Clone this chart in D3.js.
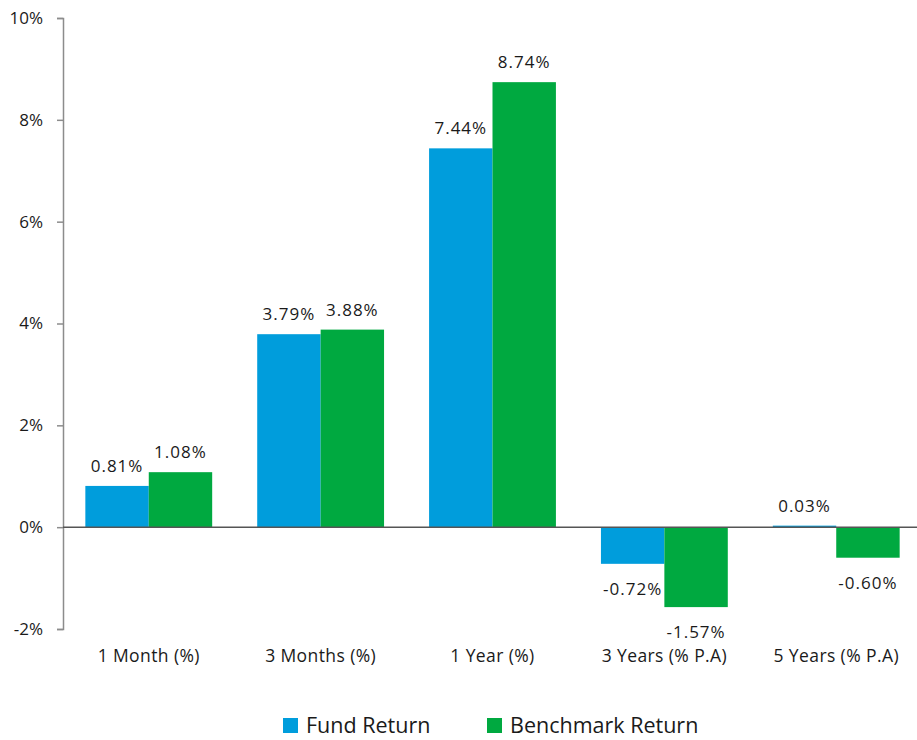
<!DOCTYPE html>
<html>
<head>
<meta charset="utf-8">
<script src="https://cdn.jsdelivr.net/npm/d3@7"></script>
<style>
  body { margin: 0; background: #fff; }
  text { font-family: "Open Sans", "Noto Sans", sans-serif; fill: #1a1a1a; }
</style>
</head>
<body>
<div id="vis"></div>
<script>
// Datos del gráfico
const CATEGORIES = ['1 Month (%)', '3 Months (%)', '1 Year (%)', '3 Years (% P.A)', '5 Years (% P.A)'];
const SERIES = ['Fund Return', 'Benchmark Return'];
const FUND = [0.81, 3.79, 7.44, -0.72, 0.03];
const BENCHMARK = [1.08, 3.88, 8.74, -1.57, -0.60];
const Y_TICKS = [-2, 0, 2, 4, 6, 8, 10];
const COLORS = ['#009ddc', '#00a940'];

const WIDTH_VIS = 917;
const HEIGHT_VIS = 740;

const SVG = d3.select('#vis').append('svg')
  .attr('width', WIDTH_VIS)
  .attr('height', HEIGHT_VIS);

const AXIS_X = 63;

const y = d3.scaleLinear().domain([-2, 10]).range([629, 18]);

const x = d3.scaleBand()
  .domain(CATEGORIES)
  .range([AXIS_X, 922])
  .paddingInner(0.262)
  .paddingOuter(0.13);

const xSub = d3.scaleBand()
  .domain(SERIES)
  .range([0, x.bandwidth()]);

// Eje Y
const yAxis = d3.axisLeft(y)
  .tickValues(Y_TICKS)
  .tickSize(6)
  .tickPadding(14)
  .tickFormat((d) => `${d}%`);

const gy = SVG.append('g')
  .attr('transform', `translate(${AXIS_X},0)`)
  .call(yAxis);
gy.select('.domain').attr('stroke', '#8c8c8c').attr('stroke-width', 1.5);
gy.selectAll('.tick line').attr('stroke', '#8c8c8c').attr('stroke-width', 1.5);
gy.selectAll('.tick text')
  .attr('font-size', 17)
  .attr('font-family', '"Open Sans", sans-serif')
  .attr('fill', '#1a1a1a');

// Barras
const rows = CATEGORIES.map((c, i) => ({ cat: c, values: [FUND[i], BENCHMARK[i]] }));

const groups = SVG.append('g')
  .selectAll('g')
  .data(rows)
  .join('g')
  .attr('transform', (d) => `translate(${x(d.cat)},0)`);

const cells = groups.selectAll('g.cell')
  .data((d) => d.values.map((v, j) => ({ v, s: SERIES[j], j })))
  .join('g')
  .attr('class', 'cell');

cells.append('rect')
  .attr('x', (d) => xSub(d.s))
  .attr('width', xSub.bandwidth())
  .attr('y', (d) => y(Math.max(0, d.v)))
  .attr('height', (d) => Math.abs(y(d.v) - y(0)))
  .attr('fill', (d) => COLORS[d.j]);

cells.append('text')
  .attr('x', (d) => xSub(d.s) + xSub.bandwidth() / 2)
  .attr('y', (d) => (d.v >= 0 ? y(d.v) - 14 : y(d.v) + 31))
  .attr('text-anchor', 'middle')
  .attr('font-size', 17)
  .attr('letter-spacing', 1)
  .text((d) => `${d.v.toFixed(2)}%`);

// Línea del cero
SVG.append('line')
  .attr('x1', AXIS_X)
  .attr('x2', WIDTH_VIS)
  .attr('y1', y(0))
  .attr('y2', y(0))
  .attr('stroke', '#555')
  .attr('stroke-width', 1.5);

// Etiquetas de categorías
SVG.append('g')
  .selectAll('text')
  .data(CATEGORIES)
  .join('text')
  .attr('x', (d) => x(d) + x.bandwidth() / 2)
  .attr('y', 662)
  .attr('text-anchor', 'middle')
  .attr('font-size', 17.5)
  .attr('letter-spacing', 0.4)
  .text((d) => d);

// Leyenda
const LEGEND_X = [283, 487];
const legend = SVG.append('g')
  .selectAll('g')
  .data(SERIES)
  .join('g')
  .attr('transform', (d, i) => `translate(${LEGEND_X[i]},718)`);

legend.append('rect')
  .attr('width', 15)
  .attr('height', 15)
  .attr('fill', (d, i) => COLORS[i]);

legend.append('text')
  .attr('x', 23)
  .attr('y', 15)
  .attr('font-size', 21.5)
  .text((d) => d);
</script>
</body>
</html>
